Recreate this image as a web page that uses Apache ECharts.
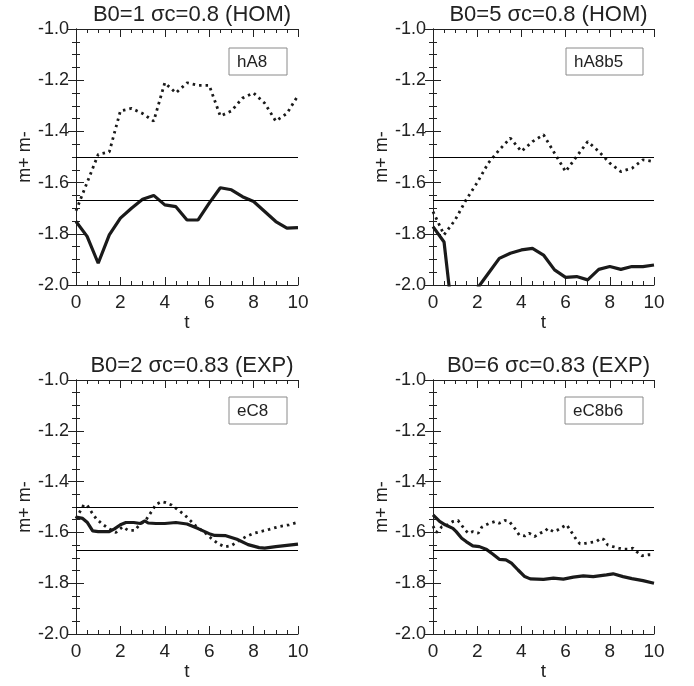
<!DOCTYPE html>
<html><head><meta charset="utf-8">
<script src="https://cdn.jsdelivr.net/npm/echarts/dist/echarts.min.js"></script>
<style>html,body{margin:0;padding:0;background:#fff}#c{width:694px;height:686px}</style>
</head><body><div id="c"></div>
<script>
// ---- data ----
const panelTitles = ['B0=1 \u03c3c=0.8 (HOM)', 'B0=5 \u03c3c=0.8 (HOM)', 'B0=2 \u03c3c=0.83 (EXP)', 'B0=6 \u03c3c=0.83 (EXP)'];
const boxLabels = ['hA8', 'hA8b5', 'eC8', 'eC8b6'];
const xTicks = [0, 2, 4, 6, 8, 10];
const yTicks = ['-2.0', '-1.8', '-1.6', '-1.4', '-1.2', '-1.0'];
const refLines = [-1.5, -1.6667];

const tHalf = [0, 0.5, 1, 1.5, 2, 2.5, 3, 3.5, 4, 4.5, 5, 5.5, 6, 6.5, 7, 7.5, 8, 8.5, 9, 9.5, 10];
const p1Dotted = [-1.71, -1.60, -1.49, -1.48, -1.32, -1.31, -1.33, -1.36, -1.21, -1.25, -1.21, -1.22, -1.22, -1.34, -1.32, -1.27, -1.25, -1.29, -1.36, -1.33, -1.26];
const p1Solid = [-1.752, -1.81, -1.915, -1.804, -1.739, -1.70, -1.665, -1.65, -1.687, -1.694, -1.746, -1.746, -1.68, -1.62, -1.628, -1.655, -1.674, -1.713, -1.752, -1.778, -1.776];
const p2Dotted = [-1.713, -1.804, -1.746, -1.667, -1.60, -1.524, -1.472, -1.426, -1.478, -1.44, -1.413, -1.485, -1.557, -1.498, -1.44, -1.478, -1.524, -1.557, -1.544, -1.511, -1.518];
const p2Solid = [-1.772, -1.832, -2.21, -2.12, -2.014, -1.955, -1.896, -1.876, -1.863, -1.857, -1.883, -1.941, -1.97, -1.967, -1.98, -1.939, -1.928, -1.939, -1.928, -1.928, -1.922];

const p3DottedT = [0, 0.35, 0.5, 0.7, 0.9, 1.15, 1.45, 1.8, 2.1, 2.35, 2.65, 2.85, 3.15, 3.4, 3.6, 3.85, 4.05, 4.3, 4.5, 4.8, 5.0, 5.4, 5.85, 6.1, 6.4, 6.7, 7.0, 7.35, 7.65, 8.0, 8.3, 8.7, 9.15, 9.6, 10];
const p3DottedV = [-1.545, -1.492, -1.492, -1.52, -1.545, -1.565, -1.584, -1.600, -1.578, -1.592, -1.592, -1.571, -1.551, -1.518, -1.490, -1.479, -1.483, -1.492, -1.505, -1.525, -1.540, -1.575, -1.604, -1.624, -1.644, -1.657, -1.652, -1.632, -1.617, -1.604, -1.597, -1.588, -1.577, -1.570, -1.560];
const p3SolidT = [0, 0.3, 0.5, 0.75, 1.0, 1.5, 1.75, 2.0, 2.25, 2.6, 2.9, 3.1, 3.25, 3.6, 4.0, 4.5, 5.0, 5.5, 6.0, 6.25, 6.75, 7.25, 7.75, 8.25, 8.5, 9.0, 9.5, 10];
const p3SolidV = [-1.540, -1.545, -1.560, -1.594, -1.597, -1.597, -1.585, -1.570, -1.561, -1.561, -1.565, -1.555, -1.563, -1.565, -1.565, -1.561, -1.567, -1.585, -1.605, -1.612, -1.613, -1.627, -1.648, -1.660, -1.662, -1.656, -1.651, -1.646];

const p4DottedT = [0, 0.15, 0.4, 0.6, 0.9, 1.13, 1.28, 1.45, 1.6, 1.8, 2.05, 2.2, 2.4, 2.55, 2.8, 3.0, 3.25, 3.45, 3.7, 3.9, 4.15, 4.35, 4.6, 4.85, 5.05, 5.2, 5.45, 5.65, 5.9, 6.05, 6.2, 6.35, 6.5, 6.65, 6.9, 7.15, 7.4, 7.6, 7.75, 7.9, 8.15, 8.4, 8.6, 8.85, 9.05, 9.2, 9.45, 9.75, 10];
const p4DottedV = [-1.575, -1.600, -1.578, -1.574, -1.557, -1.553, -1.570, -1.590, -1.603, -1.597, -1.603, -1.580, -1.570, -1.564, -1.557, -1.564, -1.553, -1.557, -1.584, -1.610, -1.614, -1.603, -1.616, -1.603, -1.597, -1.584, -1.597, -1.590, -1.577, -1.570, -1.590, -1.610, -1.630, -1.645, -1.643, -1.639, -1.636, -1.623, -1.629, -1.649, -1.656, -1.662, -1.666, -1.666, -1.662, -1.675, -1.692, -1.688, -1.688];
const p4SolidT = [0, 0.3, 0.55, 0.9, 1.05, 1.3, 1.5, 1.8, 2.1, 2.4, 2.7, 3.0, 3.3, 3.55, 3.85, 4.15, 4.4, 5.0, 5.45, 5.9, 6.35, 6.8, 7.25, 7.85, 8.15, 8.6, 9.0, 9.5, 10];
const p4SolidV = [-1.531, -1.557, -1.570, -1.584, -1.597, -1.623, -1.636, -1.653, -1.656, -1.666, -1.685, -1.706, -1.708, -1.721, -1.748, -1.774, -1.783, -1.785, -1.780, -1.784, -1.776, -1.771, -1.774, -1.767, -1.763, -1.774, -1.782, -1.790, -1.800];

// ---- layout ----
const grids = [
  {left: 76, top: 29, width: 222, height: 256},
  {left: 433, top: 29, width: 221, height: 256},
  {left: 76, top: 380, width: 222, height: 254},
  {left: 433, top: 380, width: 221, height: 254}
];
const boxes = [
  {x: 229, y: 48, w: 58}, {x: 566, y: 48, w: 77},
  {x: 229, y: 397, w: 58}, {x: 565, y: 397, w: 78}
];
const pairs = (t, v) => t.map((x, i) => [x, v[i]]);
const panels = [
  {dotted: pairs(tHalf, p1Dotted), solid: pairs(tHalf, p1Solid)},
  {dotted: pairs(tHalf, p2Dotted), solid: pairs(tHalf, p2Solid)},
  {dotted: pairs(p3DottedT, p3DottedV), solid: pairs(p3SolidT, p3SolidV)},
  {dotted: pairs(p4DottedT, p4DottedV), solid: pairs(p4SolidT, p4SolidV)}
];

const txt = '#222';
const font = 'Liberation Sans, Arial, Helvetica, sans-serif';
const xAxis = [], yAxis = [], series = [], title = [], graphic = [];
grids.forEach((g, i) => {
  const axLine = {show: true, lineStyle: {color: '#222', width: 1}};
  const tick = {show: true, inside: true, length: 8, lineStyle: {color: '#222', width: 1}};
  const minor = {show: true, splitNumber: 4, length: 4, lineStyle: {color: '#222', width: 1}};
  xAxis.push({gridIndex: i, type: 'value', min: 0, max: 10, interval: 2, position: 'bottom',
    axisLine: axLine, axisTick: tick, minorTick: minor, splitLine: {show: false},
    axisLabel: {color: txt, fontSize: 19, fontFamily: font, margin: 8,
      formatter: v => xTicks.includes(v) ? String(v) : ''},
    name: 't', nameLocation: 'middle', nameGap: 28,
    nameTextStyle: {color: txt, fontSize: 19, fontFamily: font, verticalAlign: 'top'}});
  xAxis.push({gridIndex: i, type: 'value', min: 0, max: 10, interval: 2, position: 'top',
    axisLine: axLine, axisTick: tick, minorTick: minor, splitLine: {show: false},
    axisLabel: {show: false}});
  yAxis.push({gridIndex: i, type: 'value', min: -2, max: -1, interval: 0.2, position: 'left',
    axisLine: axLine, axisTick: tick, minorTick: minor, splitLine: {show: false},
    axisLabel: {color: txt, fontSize: 18, fontFamily: font, margin: 7,
      formatter: v => yTicks[Math.round((v + 2) / 0.2)]},
    name: 'm+ m-', nameLocation: 'middle', nameGap: 41, nameRotate: 90,
    nameTextStyle: {color: txt, fontSize: 18, fontFamily: font}});
  yAxis.push({gridIndex: i, type: 'value', min: -2, max: -1, interval: 0.2, position: 'right',
    axisLine: axLine, axisTick: tick, minorTick: minor, splitLine: {show: false},
    axisLabel: {show: false}});
  series.push({type: 'line', xAxisIndex: 2 * i, yAxisIndex: 2 * i, data: panels[i].dotted,
    showSymbol: false, symbol: 'none', clip: true, animation: false,
    lineStyle: {color: '#1a1a1a', width: 2.8, type: [2.5, 4]}});
  series.push({type: 'line', xAxisIndex: 2 * i, yAxisIndex: 2 * i, data: panels[i].solid,
    showSymbol: false, symbol: 'none', clip: true, animation: false,
    lineStyle: {color: '#1a1a1a', width: 3.2},
    markLine: {silent: true, symbol: ['none', 'none'], animation: false, label: {show: false},
      lineStyle: {color: '#000', width: 1, type: 'solid'},
      data: refLines.map(v => ({yAxis: v}))}});
  title.push({text: panelTitles[i], left: g.left + g.width / 2, top: g.top - 30, textAlign: 'center',
    textStyle: {color: txt, fontSize: 22, fontWeight: 'normal', fontFamily: font}});
  const b = boxes[i];
  graphic.push({type: 'rect', shape: {x: b.x, y: b.y, width: b.w, height: 27},
    style: {fill: '#fff', stroke: '#8a8a8a', lineWidth: 1}, z: 100});
  graphic.push({type: 'text', x: b.x + 8, y: b.y + 14, z: 101,
    style: {text: boxLabels[i], fill: txt, fontSize: 17, fontFamily: font, verticalAlign: 'middle'}});
});

const chart = echarts.init(document.getElementById('c'), null, {renderer: 'canvas'});
chart.setOption({animation: false, backgroundColor: '#fff', title, grid: grids, xAxis, yAxis, series, graphic});
</script></body></html>
